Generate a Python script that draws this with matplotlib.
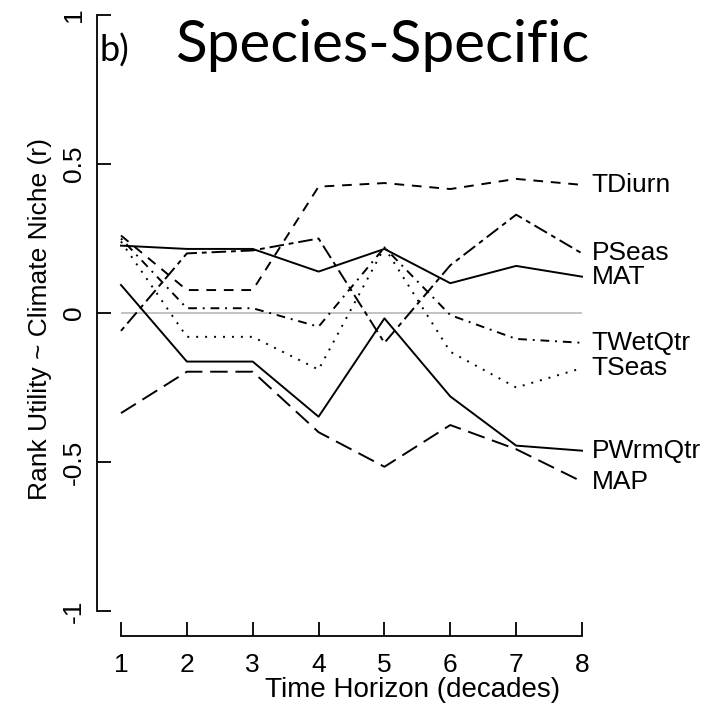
import matplotlib
matplotlib.use("Agg")
import matplotlib.pyplot as plt

horizons = [1, 2, 3, 4, 5, 6, 7, 8]
MAT = [0.226, 0.215, 0.215, 0.139, 0.215, 0.100, 0.158, 0.122]
TDiurn = [0.26, 0.077, 0.077, 0.424, 0.436, 0.416, 0.450, 0.430]
TSeas = [0.24, -0.08, -0.08, -0.19, 0.22, -0.13, -0.25, -0.185]
TWetQtr = [0.25, 0.016, 0.016, -0.046, 0.22, -0.007, -0.087, -0.10]
MAP = [-0.336, -0.197, -0.197, -0.40, -0.516, -0.376, -0.457, -0.566]
PSeas = [-0.06, 0.20, 0.21, 0.25, -0.10, 0.16, 0.33, 0.20]
PWrmQtr = [0.094, -0.163, -0.163, -0.348, -0.018, -0.28, -0.445, -0.462]

series_names = ["MAT", "TDiurn", "TSeas", "TWetQtr", "MAP", "PSeas", "PWrmQtr"]
series_vals = [MAT, TDiurn, TSeas, TWetQtr, MAP, PSeas, PWrmQtr]
y_ticks = [-1, -0.5, 0, 0.5, 1]
y_ticklabels = ["-1", "-0.5", "0", "0.5", "1"]

dash_styles = [
    None,                    # solid
    (0, (5, 4)),             # dashed
    (0, (1, 3.6)),           # dotted
    (0, (1, 3, 4.5, 3)),     # dotdash
    (0, (9, 4)),             # longdash
    (0, (2.5, 2.5, 7.5, 2.5)),  # twodash
    None,                    # solid
]

W, H = 718, 707
fig = plt.figure(figsize=(W / 100, H / 100), dpi=100)
x0, x1 = 121, 582
y0, y1 = 15, 611
ax = fig.add_axes([x0 / W, 1 - y1 / H, (x1 - x0) / W, (y1 - y0) / H])
ax.set_xlim(1, 8)
ax.set_ylim(-1, 1)
for s in ["top", "right"]:
    ax.spines[s].set_visible(False)
ax.spines["left"].set_position(("outward", 24 * 0.72))
ax.spines["bottom"].set_position(("outward", 25 * 0.72))
ax.spines["left"].set_bounds(-1, 1)
ax.spines["bottom"].set_bounds(1, 8)
for s in ["left", "bottom"]:
    ax.spines[s].set_linewidth(1.3)

fs = 19
ax.set_xticks(horizons)
ax.set_xticklabels([str(h) for h in horizons], fontsize=fs, family="Liberation Sans")
ax.set_yticks(y_ticks)
ax.set_yticklabels(y_ticklabels, fontsize=fs, family="Liberation Sans", rotation=90, va="center")
ax.tick_params(axis="both", direction="in", length=10, width=1.3, pad=8)
ax.tick_params(axis="x", pad=12)

ax.axhline(0, color="#bebebe", lw=1.3, xmin=0, xmax=1)

for name, vals, ls in zip(series_names, series_vals, dash_styles):
    ax.plot(horizons, vals, color="black", lw=1.4,
            linestyle="-" if ls is None else ls, clip_on=False)
    ax.annotate(name, xy=(8, vals[-1]), xytext=(7, 0), textcoords="offset points",
                ha="left", va="center", fontsize=fs, family="Liberation Sans",
                annotation_clip=False)

fig.text(413 / W, 1 - 690 / H, "Time Horizon (decades)", fontsize=20,
         family="Liberation Sans", ha="center", va="center")
fig.text(40 / W, 1 - 319 / H, "Rank Utility ~ Climate Niche (r)", fontsize=fs,
         family="Liberation Sans", ha="center", va="center", rotation=90)

fig.text(100 / W, 1 - 62 / H, "b)", fontsize=26, family="Lato", ha="left", va="baseline")
fig.text(175 / W, 1 - 62 / H, "Species-Specific", fontsize=42, family="Lato",
         ha="left", va="baseline")

fig.savefig("out.png", dpi=100)
